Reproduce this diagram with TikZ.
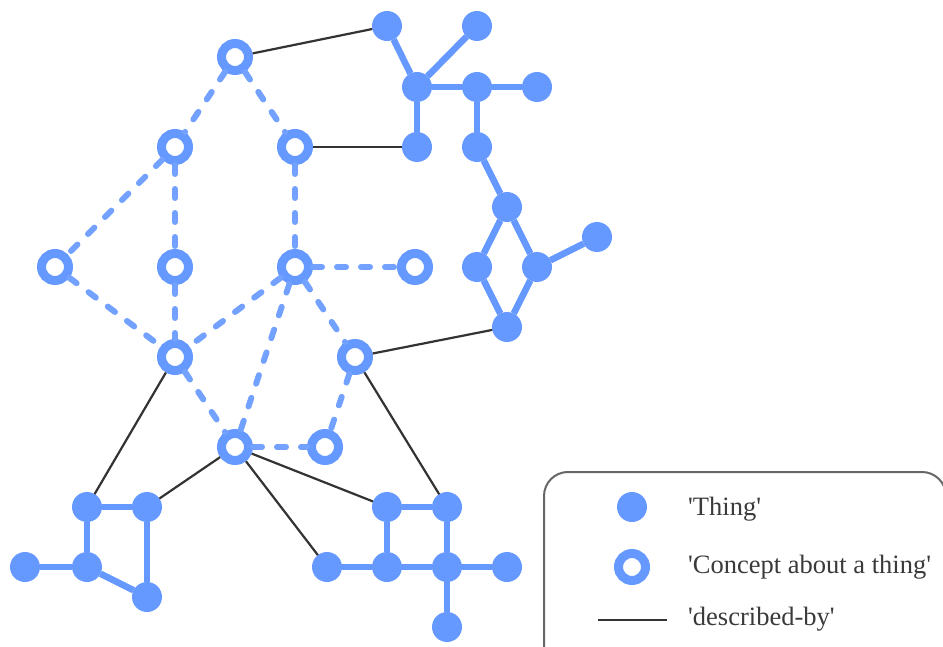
\documentclass[tikz,border=0pt]{standalone}
\usepackage{fontspec}
\setmainfont{Liberation Serif}[Ligatures=TeXOff]
\definecolor{nodeblue}{HTML}{6699FF}
\definecolor{linkgray}{HTML}{333333}
\definecolor{framegray}{HTML}{666666}
\definecolor{textgray}{HTML}{3A3A3A}
\begin{document}
\begin{tikzpicture}[x=1pt,y=-1pt,
  thing/.style={circle, fill=nodeblue, minimum size=30pt, inner sep=0pt, outer sep=0pt},
  concept/.style={circle, draw=nodeblue, fill=white, line width=9pt, minimum size=27pt, inner sep=0pt},
  solidlink/.style={draw=nodeblue, line width=6.5pt},
  conceptlink/.style={draw=nodeblue!92, line width=6pt, line cap=round, dash pattern=on 9pt off 15pt},
  describedby/.style={draw=linkgray, line width=2.2pt},
  legendtext/.style={anchor=west, text=textgray, font=\fontsize{26.5}{29}\selectfont, inner sep=0pt}]
\useasboundingbox (0,0) rectangle (943,647);
\clip (0,0) rectangle (943,647);

% things, upper right cluster
\node[thing] (t1) at (387,26) {};
\node[thing] (t2) at (477,26) {};
\node[thing] (t3) at (417,87) {};
\node[thing] (t4) at (477,87) {};
\node[thing] (t5) at (537,87) {};
\node[thing] (t6) at (417,147) {};
\node[thing] (t7) at (477,147) {};
\node[thing] (t8) at (507,207) {};
\node[thing] (t9) at (477,267) {};
\node[thing] (t10) at (537,267) {};
\node[thing] (t11) at (597,237) {};
\node[thing] (t12) at (507,327) {};
% things, lower left cluster
\node[thing] (b1) at (87,507) {};
\node[thing] (b2) at (147,507) {};
\node[thing] (b3) at (25,567) {};
\node[thing] (b4) at (87,567) {};
\node[thing] (b5) at (147,597) {};
% things, lower right cluster
\node[thing] (r1) at (387,507) {};
\node[thing] (r2) at (447,507) {};
\node[thing] (r3) at (327,567) {};
\node[thing] (r4) at (387,567) {};
\node[thing] (r5) at (447,567) {};
\node[thing] (r6) at (507,567) {};
\node[thing] (r7) at (447,627) {};

% concepts
\node[concept] (c1) at (235,57) {};
\node[concept] (c2) at (175,147) {};
\node[concept] (c3) at (295,147) {};
\node[concept] (c4) at (55,267) {};
\node[concept] (c5) at (175,267) {};
\node[concept] (c6) at (295,267) {};
\node[concept] (c7) at (415,267) {};
\node[concept] (c8) at (175,357) {};
\node[concept] (c9) at (355,357) {};
\node[concept] (c10) at (235,447) {};
\node[concept] (c11) at (325,447) {};

% links between things
\foreach \a/\b in {t1/t3, t2/t3, t3/t4, t4/t5, t3/t6, t4/t7, t7/t8, t8/t9, t8/t10, t10/t11, t9/t12, t10/t12,
                   b1/b2, b1/b4, b3/b4, b4/b5, b2/b5,
                   r1/r2, r1/r4, r2/r5, r3/r4, r4/r5, r5/r6, r5/r7}
  \draw[solidlink] (\a) -- (\b);

% links between concepts
\foreach \a/\b in {c1/c2, c1/c3, c2/c4, c2/c5, c3/c6, c4/c8, c5/c8, c6/c7, c6/c8, c6/c9, c6/c10, c8/c10, c9/c11, c10/c11}
  \draw[conceptlink] (\a) -- (\b);

% described-by links
\foreach \a/\b in {c1/t1, c3/t6, c9/t12, c8/b1, c10/b2, c10/r3, c10/r1, c9/r2}
  \draw[describedby] (\a) -- (\b);

% legend
\node[draw=framegray, line width=2pt, rounded corners=24pt, minimum width=402pt, minimum height=200pt, anchor=north west] (legend) at (543,471) {};
\node[thing] (lthing) at (632,507) {};
\node[concept] (lconcept) at (632,567) {};
\coordinate (lineA) at (598,620);
\coordinate (lineB) at (667,620);
\draw[describedby] (lineA) -- (lineB);
\node[legendtext] (ltext1) at (688,509) {'Thing'};
\node[legendtext] (ltext2) at (688,567) {'Concept about a thing'};
\node[legendtext] (ltext3) at (688,619) {'described-by'};
\end{tikzpicture}
\end{document}
